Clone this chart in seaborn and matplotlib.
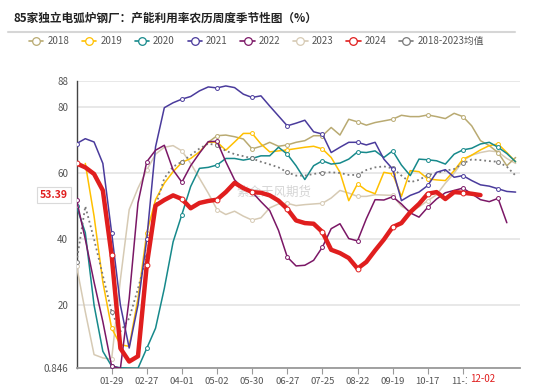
import numpy as np
import matplotlib
matplotlib.use("Agg")
import matplotlib.pyplot as plt
import matplotlib.transforms as mtransforms
from matplotlib.lines import Line2D
import seaborn as sns

# ---------------------------------------------------------------------------
# Data (农历周序号 0..50)
# ---------------------------------------------------------------------------
nan = np.nan
weeks = np.arange(51)

tick_pos = [4, 8, 12, 16, 20, 24, 28, 32, 36, 40, 44]
tick_labels = ["01-29", "02-27", "04-01", "05-02", "05-30", "06-27",
               "07-25", "08-22", "09-19", "10-17", "11-14"]

y2018 = [nan] * 15 + [
    69.4, 71.4, 71.6, 71.1, 70.4, 67.4, 68.2, 69.4, 68.2, 68.6,
    69.4, 69.9, 71.4, 71.4, 73.9, 71.6, 76.4, 75.6, 74.6, 75.4,
    75.9, 76.4, 77.6, 77.2, 77.2, 77.7, 77.2, 76.6, 78.2, 77.2,
    74.4, 69.9, 68.4, 66.3, 62.3, 64.8]

y2019 = [nan,
    63.0, 47.0, 27.0, 13.0, 8.0, 7.5, 22.0, 42.0, 52.0, 57.0,
    60.5, 63.3, 64.5, 66.5, 69.4, 69.5, 67.0, 69.5, 72.1, 72.1,
    68.9, 66.5, 66.8, 67.1, 67.5, 67.9, 68.2, 67.4, 64.8, 60.3,
    51.7, 56.8, 54.8, 53.8, 60.3, 59.8, 53.0, 60.8, 60.5, 58.3,
    58.0, 57.8, 60.8, 64.3, 65.5, 67.1, 68.4, 68.9, 66.3, 63.5]

y2020 = [
    50.0, 42.0, 20.0, 6.0, 1.5, 1.0, 0.9, 0.85, 6.9, 13.0,
    25.1, 39.2, 47.5, 56.0, 61.5, 61.8, 62.5, 64.5, 64.5, 64.0,
    64.5, 65.3, 65.3, 67.9, 65.8, 62.3, 58.1, 62.3, 63.8, 62.8,
    63.1, 64.3, 66.5, 66.3, 66.8, 64.8, 66.8, 62.5, 59.3, 64.3,
    64.1, 63.8, 62.8, 65.8, 67.1, 67.6, 68.9, 69.4, 67.9, 66.0, 63.5]

y2021 = [
    69.0, 70.5, 69.5, 63.0, 42.0, 20.0, 7.0, 20.0, 40.0, 68.0,
    79.9, 81.4, 82.5, 83.3, 85.0, 86.2, 85.9, 86.5, 86.0, 84.0,
    83.0, 83.5, 80.4, 77.4, 74.4, 75.2, 76.1, 72.6, 71.9, 66.3,
    67.9, 69.4, 69.4, 68.6, 69.4, 64.3, 61.3, 51.7, 53.3, 54.3,
    56.3, 60.3, 61.1, 58.8, 59.3, 57.8, 56.5, 56.1, 55.3, 54.5, 54.3]

y2022 = [
    52.0, 40.0, 27.0, 15.0, 1.5, 0.85, 22.0, 51.0, 63.5, 67.0,
    68.5, 61.0, 57.3, 62.3, 66.1, 69.6, 69.7, 63.5, 58.0, 55.3,
    54.3, 51.4, 48.7, 42.7, 34.6, 31.9, 32.1, 33.6, 37.6, 43.2,
    44.7, 40.2, 39.5, 46.2, 52.0, 51.9, 52.9, 50.7, 48.0, 46.7,
    49.7, 52.2, 54.1, 54.8, 55.5, 53.8, 52.0, 51.4, 52.4, 45.0, nan]

y2023 = [
    32.0, 18.0, 5.0, 4.0, 3.6, 27.8, 49.0, 55.5, 61.0, 65.8,
    67.9, 68.4, 66.8, 63.0, 58.5, 54.0, 49.0, 47.5, 48.5, 47.0,
    45.8, 46.5, 49.5, 50.7, 50.9, 50.2, 50.5, 50.7, 50.9, 52.5,
    54.8, 54.0, 53.0, 53.0, 53.5, 53.4, 53.3, 50.0, 48.5, 49.8,
    51.7, 53.5, 57.0, 60.0, 63.8, 65.5, 66.3, 66.8, 66.5, 64.5, 63.0]

y2024 = [
    63.0, 61.8, 59.8, 54.8, 35.1, 6.9, 2.9, 4.5, 32.1, 50.2,
    51.9, 53.3, 52.2, 49.4, 51.0, 51.6, 52.0, 54.3, 57.1, 55.5,
    54.3, 54.1, 53.3, 51.7, 49.2, 45.7, 44.9, 44.7, 42.2, 36.8,
    35.8, 34.3, 31.1, 33.1, 36.6, 39.9, 43.7, 44.9, 48.2, 50.7,
    53.8, 54.3, 52.2, 54.3, 54.1, 53.8, 53.39] + [nan] * 4

y_avg = [
    33.0, 50.0, 40.0, 29.0, 18.0, 12.0, 16.0, 25.0, 35.0, 50.0,
    58.5, 62.0, 63.5, 65.5, 67.5, 69.0, 68.5, 66.8, 65.8, 65.2,
    64.5, 63.5, 62.7, 61.8, 60.3, 59.3, 59.3, 59.8, 60.2, 60.3,
    60.1, 59.5, 59.5, 61.0, 61.8, 62.1, 61.5, 59.3, 57.3, 58.0,
    59.5, 60.0, 60.8, 61.3, 63.0, 64.2, 64.0, 63.7, 63.5, 62.0, 59.3]

series = [
    ("2018", y2018, "#B9AA72", 1.1, "-"),
    ("2019", y2019, "#FFC000", 1.1, "-"),
    ("2020", y2020, "#16898B", 1.1, "-"),
    ("2021", y2021, "#4A3B9C", 1.1, "-"),
    ("2022", y2022, "#7B1766", 1.1, "-"),
    ("2023", y2023, "#D6CAB4", 1.1, "-"),
    ("2024", y2024, "#E01E1E", 3.2, "-"),
    ("2018-2023均值", y_avg, "#7A7A7A", 1.3, ":"),
]

# ---------------------------------------------------------------------------
# Style
# ---------------------------------------------------------------------------
sns.set_theme(style="white")
plt.rcParams["font.family"] = ["Noto Sans CJK SC", "DejaVu Sans"]
plt.rcParams["axes.unicode_minus"] = False

fig = plt.figure(figsize=(5.5, 3.88), dpi=100)
ax = fig.add_axes([76.5 / 550, 1 - 368.3 / 388, (520 - 76.5) / 550, (368.3 - 81) / 388])

draw_order = [5, 0, 1, 2, 7, 3, 4, 6]
for k in draw_order:
    name, vals, color, lw, ls = series[k]
    vals = np.asarray(vals, dtype=float)
    valid = ~np.isnan(vals)
    xs, ys = weeks[valid], vals[valid]
    mk = [j for j, w in enumerate(xs) if w % 4 == 0]
    sns.lineplot(x=xs, y=ys, ax=ax, color=color, lw=lw, linestyle=ls,
                 marker="o", markevery=mk, markersize=2.8 if lw < 2 else 3.5,
                 markerfacecolor="white", markeredgecolor=color, markeredgewidth=0.7,
                 zorder=3 if lw < 2 else 4, legend=False, sort=False)

ax.set_xlim(0, 50.5)
ax.set_ylim(0.846, 88)
ax.set_yticks([0.846, 20, 40, 60, 80, 88])
ax.set_yticklabels(["0.846", "20", "40", "60", "80", "88"])
ax.set_xticks(tick_pos)
ax.set_xticklabels(tick_labels)
ax.set_xlabel("")
ax.set_ylabel("")

ax.yaxis.grid(True, color="#E2E2E2", lw=1.1)
ax.xaxis.grid(False)
ax.set_axisbelow(True)
for s in ["top", "right"]:
    ax.spines[s].set_visible(False)
ax.spines["left"].set_color("#444444")
ax.spines["left"].set_linewidth(1.0)
ax.spines["bottom"].set_color("#9A9A9A")
ax.spines["bottom"].set_linewidth(1.3)
ax.tick_params(axis="y", length=4, width=0.8, color="#444444", labelsize=7, labelcolor="#555555", pad=2)
ax.tick_params(axis="x", length=4, width=0.8, color="#9A9A9A", labelsize=6.8, labelcolor="#555555", pad=2,
               bottom=True)

# watermark
ax.text(274 / 550, 1 - 192 / 388, "紫金天风期货", transform=fig.transFigure, fontsize=9,
        color="#D5D5D5", ha="center", va="center", zorder=1.5)

# last value pointer on y axis
trans_y = mtransforms.blended_transform_factory(fig.transFigure, ax.transData)
ax.text(54 / 550, 53.39, "53.39", transform=trans_y, fontsize=7.5, fontweight="bold",
        color="#E01E1E", ha="center", va="center", clip_on=False,
        bbox=dict(boxstyle="square,pad=0.25", fc="white", ec="#DADADA", lw=0.8))

# highlighted x label (covers part of the 11-14 label, as in the source chart)
trans_x = mtransforms.blended_transform_factory(ax.transData, fig.transFigure)
ax.text(46.2, 1 - 379 / 388, "12-02", transform=trans_x, fontsize=7, color="#E01E1E",
        ha="center", va="center", clip_on=False,
        bbox=dict(boxstyle="square,pad=0.3", fc="white", ec="none"))

# title + separator
fig.text(14 / 550, 1 - 18 / 388, "85家独立电弧炉钢厂：产能利用率农历周度季节性图（%）",
         fontsize=8.4, fontweight="bold", color="#222222", ha="left", va="center")
fig.add_artist(Line2D([8 / 550, 515 / 550], [1 - 32 / 388] * 2, color="#D6D6D6", lw=1.5))

# legend
handles = [Line2D([0], [0], color=c, lw=1.2, linestyle="-", marker="o", markersize=5.5,
                  markerfacecolor="white", markeredgecolor=c, markeredgewidth=0.9)
           for _, _, c, _, _ in series]
labels = [s[0] for s in series]
leg = fig.legend(handles, labels, loc="center", bbox_to_anchor=(0.466, 1 - 41 / 388), ncol=8,
                 frameon=False, fontsize=7, handlelength=1.5, handletextpad=0.4,
                 columnspacing=1.3, borderaxespad=0)
for t in leg.get_texts():
    t.set_color("#555555")

fig.savefig("out.png", dpi=100)
